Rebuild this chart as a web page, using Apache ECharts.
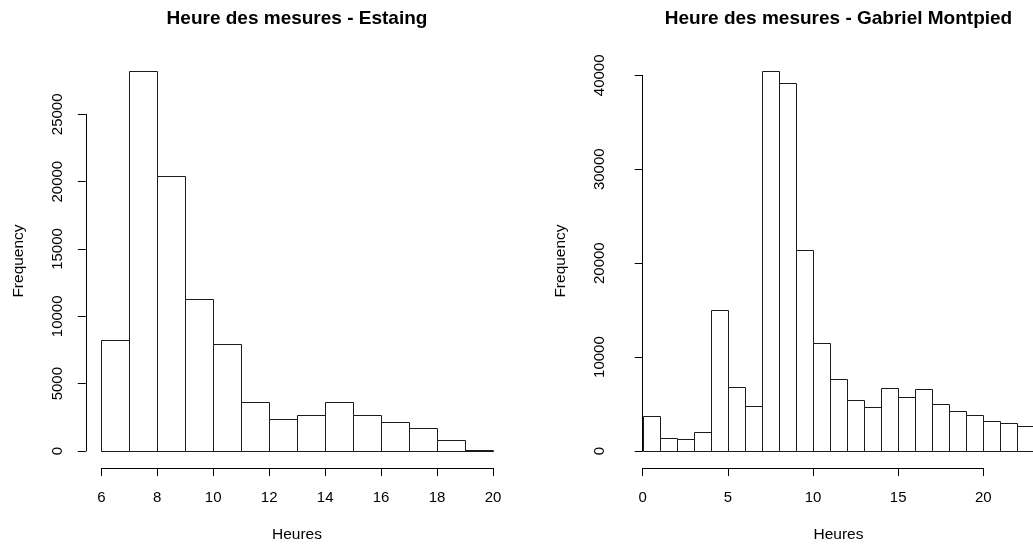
<!DOCTYPE html>
<html>
<head>
<meta charset="utf-8">
<title>Heure des mesures</title>
<script src="https://cdn.jsdelivr.net/npm/echarts@6/dist/echarts.min.js"></script>
<style>
  html, body { margin: 0; padding: 0; background: #fff; }
  #chart { width: 1033px; height: 545px; }
</style>
</head>
<body>
<div id="chart"></div>
<script>
// Histogram bins (hour boundaries) and counts for each station
const estaingBreaks = [6, 7, 8, 9, 10, 11, 12, 13, 14, 15, 16, 17, 18, 19, 20];
const estaingCounts = [8250, 28250, 20450, 11300, 7950, 3650, 2380, 2680, 3650, 2680, 2150, 1700, 820, 80];

const montpiedBreaks = [0, 1, 2, 3, 4, 5, 6, 7, 8, 9, 10, 11, 12, 13, 14, 15, 16, 17, 18, 19, 20, 21, 22, 23];
const montpiedCounts = [3730, 1380, 1240, 2020, 15050, 6810, 4790, 40500, 39220, 21440, 11500, 7670, 5430,
                        4690, 6710, 5750, 6600, 5000, 4260, 3800, 3230, 2950, 2660];

const estaingXTicks = { min: 6, max: 20, interval: 2 };
const estaingYTicks = { min: 0, max: 25000, interval: 5000 };
const montpiedXTicks = { min: 0, max: 20, interval: 5 };
const montpiedYTicks = { min: 0, max: 40000, interval: 10000 };

const FONT = "'Liberation Sans', Arial, Helvetica, sans-serif";
const INK = '#000';

function binData(breaks, counts) {
  return counts.map((c, i) => [breaks[i], breaks[i + 1], c]);
}

function renderBin(params, api) {
  const p0 = api.coord([api.value(0), 0]);
  const p1 = api.coord([api.value(1), api.value(2)]);
  const x0 = Math.round(p0[0]) + 0.5;
  const x1 = Math.round(p1[0]) + 0.5;
  const yb = Math.round(p0[1]) + 0.5;
  const yt = Math.round(p1[1]) + 0.5;
  return {
    type: 'rect',
    shape: { x: x0, y: yt, width: x1 - x0, height: yb - yt },
    style: { fill: '#fff', stroke: '#1a1a1a', lineWidth: 1 }
  };
}

function xAxisFor(gridIndex, ticks) {
  return {
    type: 'value', gridIndex, min: ticks.min, max: ticks.max, interval: ticks.interval,
    position: 'bottom', offset: 17,
    axisLine: { show: true, onZero: false, lineStyle: { color: INK, width: 1 } },
    axisTick: { show: true, length: 8, lineStyle: { color: INK, width: 1 } },
    axisLabel: { show: true, margin: 22, color: INK, fontSize: 15, fontFamily: FONT,
                 formatter: v => String(v) },
    splitLine: { show: false }
  };
}

function yAxisFor(gridIndex, ticks) {
  return {
    type: 'value', gridIndex, min: ticks.min, max: ticks.max, interval: ticks.interval,
    position: 'left', offset: 15.5,
    axisLine: { show: true, lineStyle: { color: INK, width: 1 } },
    axisTick: { show: true, length: 8, lineStyle: { color: INK, width: 1 } },
    axisLabel: { show: true, rotate: 90, margin: 20, color: INK, fontSize: 15, fontFamily: FONT,
                 formatter: v => String(v) },
    splitLine: { show: false }
  };
}

function label(text, x, y, opts) {
  return Object.assign({
    type: 'text', x, y,
    style: {
      text, fill: INK, font: (opts && opts.font) || ('15.5px ' + FONT),
      textAlign: 'center', textVerticalAlign: 'middle'
    }
  }, opts && opts.rotation ? { rotation: opts.rotation } : {});
}

const chart = echarts.init(document.getElementById('chart'), null, { renderer: 'canvas' });

chart.setOption({
  backgroundColor: '#fff',
  animation: false,
  grid: [
    { left: 101.3, top: 114.3, width: 391.7, height: 336.7, containLabel: false },
    { left: 642.7, top: 75.3, width: 340.6, height: 375.7, containLabel: false }
  ],
  xAxis: [xAxisFor(0, estaingXTicks), xAxisFor(1, montpiedXTicks)],
  yAxis: [yAxisFor(0, estaingYTicks), yAxisFor(1, montpiedYTicks)],
  series: [
    {
      type: 'custom', xAxisIndex: 0, yAxisIndex: 0, clip: false,
      renderItem: renderBin, data: binData(estaingBreaks, estaingCounts)
    },
    {
      type: 'custom', xAxisIndex: 1, yAxisIndex: 1, clip: false,
      renderItem: renderBin, data: binData(montpiedBreaks, montpiedCounts)
    }
  ],
  graphic: [
    label('Heure des mesures - Estaing', 297, 19, { font: 'bold 19px ' + FONT }),
    label('Heure des mesures - Gabriel Montpied', 838.5, 19, { font: 'bold 19px ' + FONT }),
    label('Heures', 297, 535),
    label('Heures', 838.5, 535),
    label('Frequency', 19, 261, { rotation: Math.PI / 2 }),
    label('Frequency', 561, 261, { rotation: Math.PI / 2 })
  ]
});
</script>
</body>
</html>
